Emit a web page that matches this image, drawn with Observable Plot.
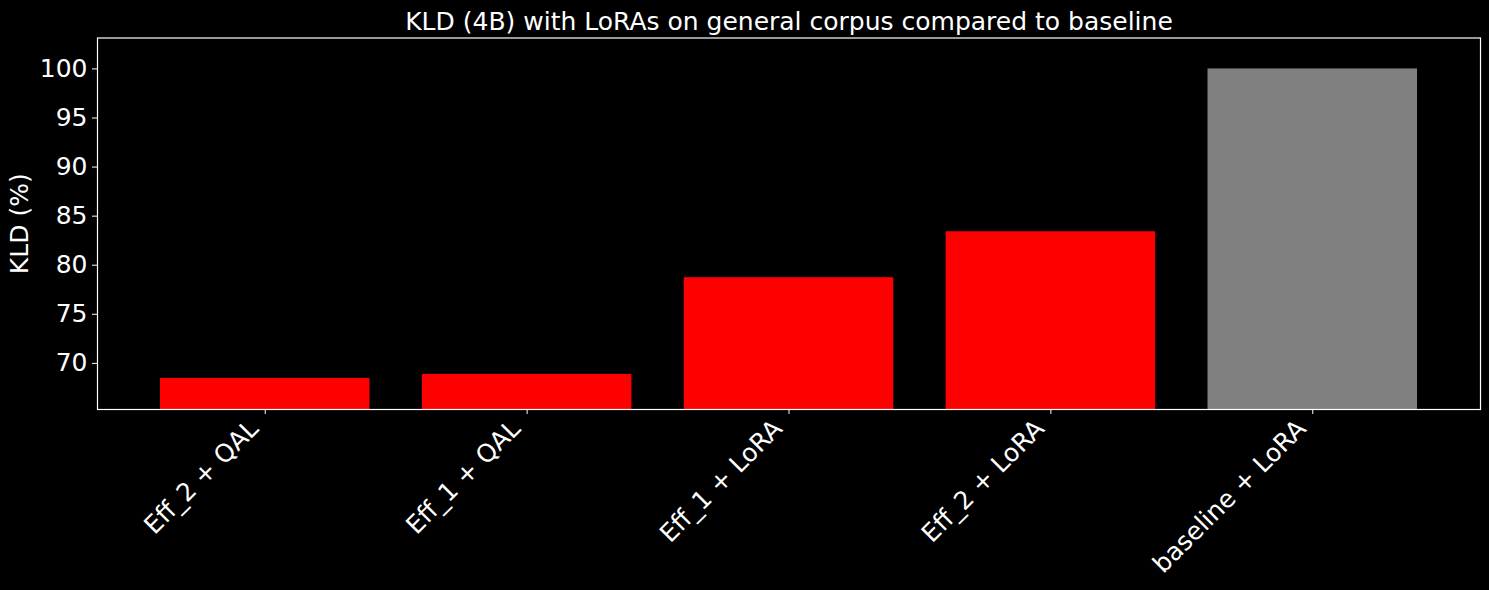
<!DOCTYPE html>
<html>
<head>
<meta charset="utf-8">
<script src="https://cdn.jsdelivr.net/npm/d3@7"></script>
<script src="https://cdn.jsdelivr.net/npm/@observablehq/plot@0.6"></script>
<style>
  html, body { margin: 0; padding: 0; background: #000; }
</style>
</head>
<body>
<div id="chart"></div>
<script>
const title = "KLD (4B) with LoRAs on general corpus compared to baseline";
const yLabel = "KLD (%)";
const categories = ["Eff_2 + QAL", "Eff_1 + QAL", "Eff_1 + LoRA", "Eff_2 + LoRA", "baseline + LoRA"];
const values = [68.47, 68.88, 78.73, 83.41, 100];
const kinds = ["variant", "variant", "variant", "variant", "baseline"];
const yTicks = [70, 75, 80, 85, 90, 95, 100];

const data = categories.map((c, i) => ({cat: c, value: values[i], kind: kinds[i]}));

const font = "DejaVu Sans, sans-serif";

const chart = Plot.plot({
  width: 1489,
  height: 590,
  marginLeft: 97,
  marginRight: 9,
  marginTop: 37.5,
  marginBottom: 181,
  style: {background: "#000", color: "#fff", fontFamily: font, fontSize: "25px"},
  x: {domain: categories, paddingInner: 0.2, paddingOuter: 0.2405, align: 0.5, round: false},
  y: {domain: [65.3, 103.15]},
  color: {domain: ["variant", "baseline"], range: ["#ff0000", "#808080"]},
  marks: [
    Plot.barY(data, {x: "cat", y: "value", fill: "kind", clip: true}),
    Plot.frame({stroke: "#fff", strokeWidth: 1.2}),
    Plot.axisY({ticks: yTicks, tickSize: 5, tickPadding: 5, fontSize: 25, label: null, stroke: "#fff", tickFormat: d => String(d)}),
    Plot.axisX({tickSize: 5, label: null, stroke: "#fff", tickFormat: () => ""}),
    Plot.axisX({tickSize: 0, tickPadding: 11, tickRotate: -45, dx: -11, dy: 4, fontSize: 25, label: null}),
    Plot.text([yLabel], {text: d => d, frameAnchor: "left", textAnchor: "middle", lineAnchor: "middle", dx: -78, rotate: -90, fontSize: 25, fill: "#fff"}),
    Plot.text([title], {text: d => d, frameAnchor: "top", textAnchor: "middle", lineAnchor: "middle", dy: -16.5, fontSize: 25, fill: "#fff"})
  ]
});
document.getElementById("chart").appendChild(chart);
</script>
</body>
</html>
